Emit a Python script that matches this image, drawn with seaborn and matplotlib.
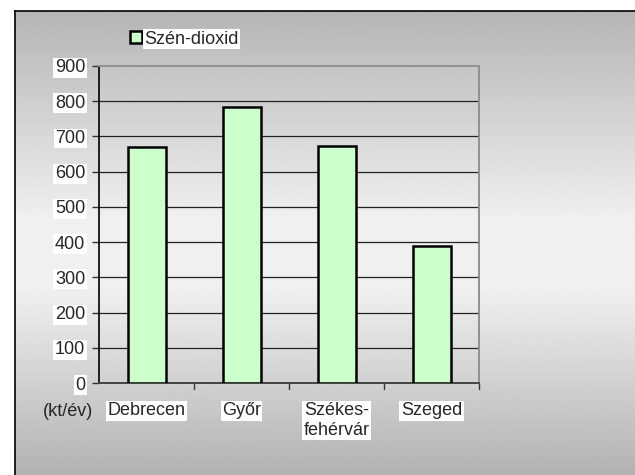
import numpy as np
import matplotlib
matplotlib.use("Agg")
import matplotlib.pyplot as plt
import seaborn as sns
from matplotlib.patches import Patch
from matplotlib import font_manager

# data
cities = ["Debrecen", "Győr", "Székes-\nfehérvár", "Szeged"]
co2 = [669, 785, 673, 390]
series_name = "Szén-dioxid"
unit_label = "(kt/év)"
yticks = [0, 100, 200, 300, 400, 500, 600, 700, 800, 900]

sns.set_style("white")
names = {f.name for f in font_manager.fontManager.ttflist}
narrow = "Liberation Sans Narrow" in names
print("narrow available:", narrow)
if narrow:
    plt.rcParams["font.family"] = ["Liberation Sans Narrow", "DejaVu Sans"]
    fs = 15
else:
    plt.rcParams["font.family"] = ["Liberation Sans", "DejaVu Sans"]
    fs = 13

W, H = 635, 475
fig = plt.figure(figsize=(W / 100, H / 100), dpi=100)
fig.patch.set_facecolor("white")

# grey gradient background of the chart frame
bg = fig.add_axes([15 / W, 0, 1 - 15 / W, 1 - 11 / H])
rows = np.linspace(0, 1, 300)
shade = np.interp(rows, [0, 0.45, 0.6, 1], [0.71, 0.94, 0.94, 0.70])
grad = np.repeat(shade[:, None], 2, axis=1)
bg.imshow(grad, cmap="gray", vmin=0, vmax=1, aspect="auto", extent=[0, 1, 0, 1], origin="upper")
bg.set_xlim(0, 1)
bg.set_ylim(0, 1)
bg.set_xticks([])
bg.set_yticks([])
for s in ["right", "bottom"]:
    bg.spines[s].set_visible(False)
for s in ["left", "top"]:
    bg.spines[s].set_color("black")
    bg.spines[s].set_linewidth(1.2)

ax = fig.add_axes([99 / W, 92 / H, 380 / W, 317 / H])
ax.patch.set_alpha(0)
df_x = list(range(len(cities)))
sns.barplot(x=df_x, y=co2, ax=ax, color="#ccffcc", edgecolor="black",
            linewidth=1.8, width=0.4, saturation=1, zorder=3, label=series_name)
ax.set_xlim(-0.5, len(cities) - 0.5)
ax.set_ylim(0, 900)
ax.set_yticks(yticks)
ax.set_yticklabels([str(v) for v in yticks], fontsize=fs)
for v in yticks[1:-1]:
    ax.axhline(v, color="#222222", linewidth=0.9, zorder=1)

ax.set_xticks(df_x)
ax.set_xticklabels(cities, fontsize=fs, linespacing=1.2, va="top")
ax.tick_params(axis="x", length=0, pad=14)
# category separator ticks
for b in np.arange(0.5, len(cities), 1.0):
    ax.plot([b, b], [0, -0.018], transform=ax.get_xaxis_transform(),
            color="#333333", linewidth=1, clip_on=False)
ax.tick_params(axis="y", direction="out", length=5, width=1, color="#333333",
               pad=5, left=True)

for lab in ax.get_yticklabels() + ax.get_xticklabels():
    lab.set_bbox(dict(facecolor="white", edgecolor="none", pad=1))

ax.spines["left"].set_color("black")
ax.spines["left"].set_linewidth(1.2)
ax.spines["bottom"].set_color("#444444")
ax.spines["bottom"].set_linewidth(1.4)
ax.spines["top"].set_color("#909090")
ax.spines["top"].set_linewidth(1.4)
ax.spines["right"].set_color("#909090")
ax.spines["right"].set_linewidth(1.4)
ax.set_xlabel("")
ax.set_ylabel("")

fig.text(43 / W, 1 - 411 / H, unit_label, fontsize=fs, va="center", ha="left")

handle = Patch(facecolor="#ccffcc", edgecolor="black", linewidth=1.8)
leg = ax.legend([handle], [series_name], loc="center left",
                bbox_to_anchor=(130 / W, 1 - 39 / H), bbox_transform=fig.transFigure,
                frameon=False, fontsize=fs, handlelength=0.65, handleheight=0.65,
                handletextpad=0.15, borderpad=0, borderaxespad=0)
for t in leg.get_texts():
    t.set_bbox(dict(facecolor="white", edgecolor="none", pad=1))

fig.savefig("out.png", dpi=100)
